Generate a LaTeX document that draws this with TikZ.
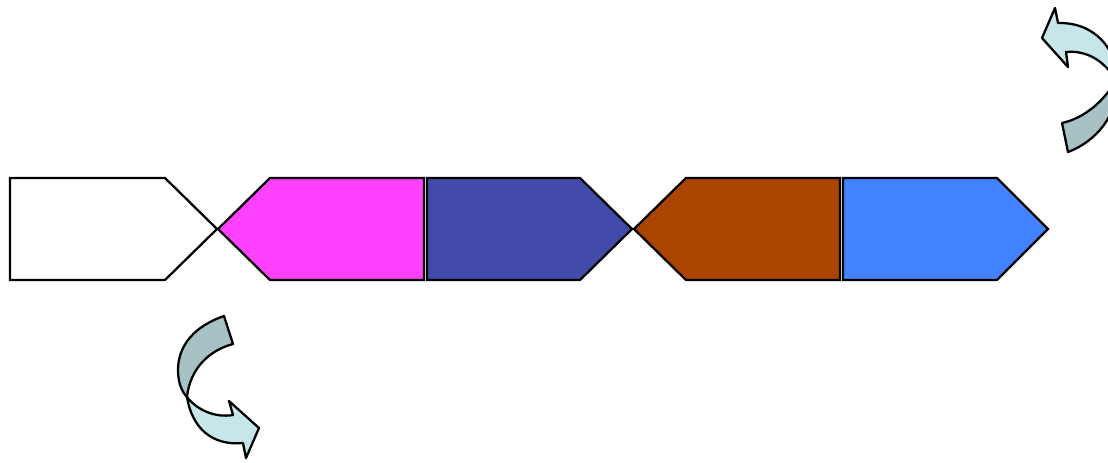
\documentclass[tikz,border=0pt]{standalone}
\usepackage{xcolor}
\usepackage{tikz}

\definecolor{genepink}{RGB}{255,64,255}
\definecolor{geneindigo}{RGB}{67,75,170}
\definecolor{genebrown}{RGB}{170,68,0}
\definecolor{geneblue}{RGB}{66,130,255}
\definecolor{flipdark}{RGB}{168,193,197}
\definecolor{fliplight}{RGB}{198,230,233}

\begin{document}
\begin{tikzpicture}[
  x=0.75pt, y=-0.75pt,
  gene/.style={draw, line width=1.7pt, line join=miter},
  flip/.style={draw, line width=1.7pt, line join=round}
]
  \useasboundingbox (0,0) rectangle (1108,462);
  \clip (0,0) rectangle (1108,462);

  % gene arrows along the strand
  \draw[gene, fill=white] (10,178) -- (165,178) -- (217,229) -- (165,280) -- (10,280) -- cycle;
  \draw[gene, fill=genepink] (218,229) -- (270,178) -- (424,178) -- (424,280) -- (270,280) -- cycle;
  \draw[gene, fill=geneindigo] (427,178) -- (580,178) -- (632,229) -- (580,280) -- (427,280) -- cycle;
  \draw[gene, fill=genebrown] (634,229) -- (686,178) -- (840,178) -- (840,280) -- (686,280) -- cycle;
  \draw[gene, fill=geneblue] (843,178) -- (997,178) -- (1048,229) -- (997,280) -- (843,280) -- cycle;

  % twisted arrow, lower left
  \draw[flip, fill=flipdark] (224,316) -- (233,344)
    .. controls (210,350) and (190,368) .. (187,397)
    .. controls (182,392) and (178,383) .. (178,370)
    .. controls (178,345) and (195,326) .. (224,316) -- cycle;
  \draw[flip, fill=fliplight] (187,397)
    .. controls (197,410) and (215,418) .. (233,415)
    -- (229,401) -- (259,428) -- (246,458) -- (243,443)
    .. controls (212,446) and (192,428) .. (187,397) -- cycle;

  % twisted arrow, upper right
  \draw[flip, fill=fliplight] (1058,23) -- (1055,8) -- (1042,38) -- (1068,67) -- (1066,52)
    .. controls (1088,50) and (1105,62) .. (1116,80)
    .. controls (1118,50) and (1095,22) .. (1058,23) -- cycle;
  \draw[flip, fill=flipdark] (1116,80)
    .. controls (1120,115) and (1095,142) .. (1068,152)
    -- (1062,123)
    .. controls (1085,118) and (1105,100) .. (1116,80) -- cycle;
\end{tikzpicture}
\end{document}
